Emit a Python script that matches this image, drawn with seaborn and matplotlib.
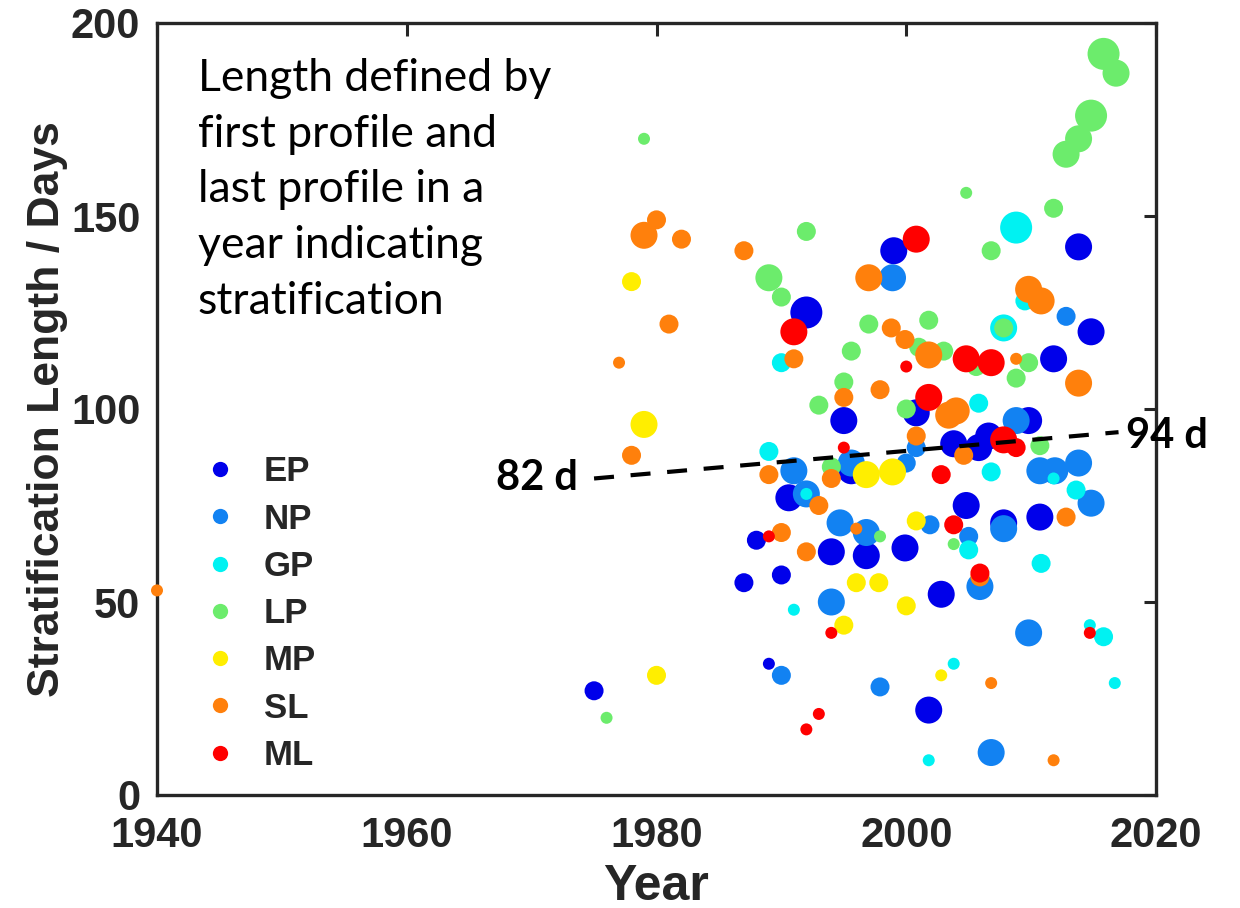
import numpy as np
import pandas as pd
import matplotlib
matplotlib.use("Agg")
import matplotlib.pyplot as plt
from matplotlib.lines import Line2D
import seaborn as sns

# ---------------- data ----------------
lakes = ["EP", "NP", "GP", "LP", "MP", "SL", "ML"]
lake_colors = ["#0000ea", "#1282f2", "#00f2f2", "#6cec6c", "#ffee00", "#ff800c", "#ff0000"]

# (year, stratification length in days, profile-count class 1..4)
ep_year = [1975, 1992, 1995, 1990.6, 1988, 1994, 1987, 1990, 1989, 1995.6, 1996.8, 1999.9, 2004.8,
           1999, 2013.8, 2014.8, 2011.8, 2000.8, 2009.8, 2003.8, 2006.6, 2005.8, 2010.7, 2007.8,
           2002.8, 2001.8]
ep_days = [27, 125, 97, 77, 66, 63, 55, 57, 34, 84, 62, 64, 75,
           141, 142, 120, 113, 99, 97, 91, 93, 90, 72, 70.5,
           52, 22]
ep_n = [2, 4, 3, 3, 2, 3, 2, 2, 1, 3, 3, 3, 3,
        3, 3, 3, 3, 3, 3, 3, 3, 3, 3, 3,
        3, 3]

np_year = [1998.9, 2012.8, 1991, 1992, 1995.6, 1994.7, 1994, 1990, 1996.8, 2000, 2000.8, 2001.9,
           2008.8, 2010.7, 2011.9, 2013.8, 2014.8, 2007.8, 2005, 2005.9, 2009.8, 1997.9, 2006.8]
np_days = [134, 124, 84, 78, 86, 70.5, 50, 31, 68, 86, 90, 70,
           97, 84, 84, 86, 75.6, 69, 67, 54, 42, 28, 11]
np_n = [3, 2, 3, 3, 3, 3, 3, 2, 3, 2, 2, 2,
        3, 3, 3, 3, 3, 3, 2, 3, 3, 2, 3]

gp_year = [1990, 1989, 1992, 1991, 2008.8, 2009.5, 2007.8, 2005.8, 2006.8, 2011.8, 2013.6, 2005,
           2010.8, 2014.7, 2015.8, 2003.8, 2016.7, 2001.8]
gp_days = [112, 89, 78, 48, 147, 128, 121, 101.5, 83.7, 82, 79, 63.5,
           60, 44, 41, 34, 29, 9]
gp_n = [2, 2, 1, 1, 4, 2, 3, 2, 2, 1, 2, 2,
        2, 1, 2, 1, 1, 1]

lp_year = [1976, 1979, 1992, 1989, 1990, 1995.6, 1995, 1993, 1994, 1997.9, 1997, 2001.8, 2001,
           2003, 2005.6, 2009.8, 2008.8, 2007.8, 2000, 2010.7, 2003.8, 2004.8, 2011.8, 2006.8,
           2015.8, 2016.8, 2014.8, 2013.8, 2012.8]
lp_days = [20, 170, 146, 134, 129, 115, 107, 101, 85, 67, 122, 123, 116,
           115, 111, 112, 108, 121, 100, 90.5, 65, 156, 152, 141,
           192, 187, 176, 170, 166]
lp_n = [1, 1, 2, 3, 2, 2, 2, 2, 2, 1, 2, 2, 2,
        2, 2, 2, 2, 2, 2, 2, 1, 1, 2, 2,
        4, 3, 4, 3, 3]

mp_year = [1980, 1979, 1978, 1996, 1995, 1996.8, 1998.9, 2000.8, 1997.8, 2000, 2002.8]
mp_days = [31, 96, 133, 55, 44, 83, 83.7, 71, 55, 49, 31]
mp_n = [2, 3, 2, 2, 2, 3, 3, 2, 2, 2, 1]

sl_year = [1940, 1977, 1978, 1980, 1979, 1982, 1981, 1987, 1991, 1995, 1989, 1993, 1994, 1996,
           1990, 1992, 1997, 2009.8, 2010.8, 1998.8, 1999.9, 2001.8, 2008.8, 2013.8, 1997.9,
           2003.4, 2004, 2000.8, 2004.6, 2012.8, 2005.9, 2006.8, 2011.8]
sl_days = [53, 112, 88, 149, 145, 144, 122, 141, 113, 103, 83, 75, 82, 69,
           68, 63, 134, 131, 128, 121, 118, 114, 113, 106.7, 105,
           98.4, 99.5, 93, 88, 72, 56.5, 29, 9]
sl_n = [1, 1, 2, 2, 3, 2, 2, 2, 2, 2, 2, 2, 2, 1,
        2, 2, 3, 3, 3, 2, 2, 3, 1, 3, 2,
        3, 3, 2, 2, 2, 2, 1, 1]

ml_year = [1991, 1995, 1989, 1994, 1993, 1992, 2000.8, 2000, 2004.8, 2006.8, 2001.8, 2007.8,
           2008.8, 2002.8, 2003.8, 2005.9, 2014.7]
ml_days = [120, 90, 67, 42, 21, 17, 144, 111, 113, 112, 103, 92,
           90, 83, 70, 57.5, 42]
ml_n = [3, 1, 1, 1, 1, 1, 3, 1, 3, 3, 3, 3,
        2, 2, 2, 2, 1]

trend_years = [1975, 2017]
trend_days = [82, 94]

x_ticks = [1940, 1960, 1980, 2000, 2020]
y_ticks = [0, 50, 100, 150, 200]

note_text = ("Length defined by\nfirst profile and\nlast profile in a\n"
             "year indicating\nstratification")

# ---------------- build frame ----------------
series = {
    "EP": (ep_year, ep_days, ep_n), "NP": (np_year, np_days, np_n),
    "GP": (gp_year, gp_days, gp_n), "LP": (lp_year, lp_days, lp_n),
    "MP": (mp_year, mp_days, mp_n), "SL": (sl_year, sl_days, sl_n),
    "ML": (ml_year, ml_days, ml_n),
}
frames = []
for lake in lakes:
    yr, dy, nn = series[lake]
    frames.append(pd.DataFrame({"year": yr, "days": dy, "n": nn, "lake": lake}))
df = pd.concat(frames, ignore_index=True)

# ---------------- style ----------------
sns.set_style("white")
plt.rcParams["font.family"] = ["Liberation Sans", "DejaVu Sans"]
plt.rcParams["font.weight"] = "bold"

fig = plt.figure(figsize=(12.4, 9.08), dpi=100)
ax = fig.add_axes([157 / 1240, 1 - 795 / 908, 999 / 1240, 772 / 908])

def px2s(d):
    return (d * 0.72) ** 2

size_map = {1: px2s(12), 2: px2s(19), 3: px2s(27), 4: px2s(32)}

sns.scatterplot(data=df, x="year", y="days", hue="lake", hue_order=lakes,
                palette=lake_colors, size="n", sizes=size_map, legend=False,
                linewidth=0, alpha=1, ax=ax, clip_on=False, zorder=3)

ax.plot(trend_years, trend_days, color="black", lw=3.0, dashes=(4.8, 4.0), zorder=4)

ax.set_xlim(1940, 2020)
ax.set_ylim(0, 200)
ax.set_xticks(x_ticks)
ax.set_yticks(y_ticks)
ax.tick_params(direction="in", length=9, width=2.2, top=True, right=True,
               labelsize=30, color="#262626")
ax.tick_params(axis="x", pad=15)
ax.tick_params(axis="y", pad=12)
for lab in ax.get_xticklabels() + ax.get_yticklabels():
    lab.set_fontweight("bold")
for sp in ax.spines.values():
    sp.set_linewidth(2.4)
    sp.set_color("#262626")

ax.set_xlabel("Year", fontsize=36, fontweight="bold", labelpad=6)
ax.set_ylabel("Stratification Length / Days", fontsize=32, fontweight="bold", labelpad=2)

ax.text(0.041, 0.955, note_text, transform=ax.transAxes, ha="left", va="top",
        fontsize=32, family=["Lato", "DejaVu Sans"], fontweight="normal",
        linespacing=1.45, color="black")

ax.text(1973.7, 82.2, "82 d", ha="right", va="center", fontsize=30,
        family=["Lato", "DejaVu Sans"], fontweight="bold", color="black")
ax.text(2017.6, 93.0, "94 d", ha="left", va="center", fontsize=30,
        family=["Lato", "DejaVu Sans"], fontweight="bold", color="black", clip_on=False)

handles = [Line2D([0], [0], marker="o", linestyle="none", markersize=11,
                  markerfacecolor=c, markeredgewidth=0) for c in lake_colors]
leg = ax.legend(handles, lakes, loc="upper left", bbox_to_anchor=(0.046, 0.44),
                frameon=False, fontsize=25, handlelength=1.0, handletextpad=0.75,
                labelspacing=0.41, borderpad=0, borderaxespad=0)
for t in leg.get_texts():
    t.set_fontweight("bold")

fig.savefig("out.png", dpi=100)
